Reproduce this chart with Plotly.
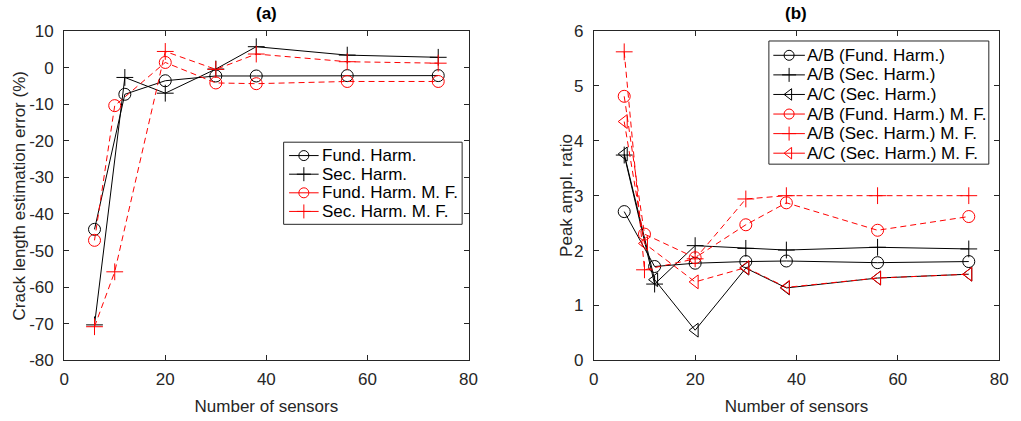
import plotly.graph_objects as go

# ---- data: (a) crack length estimation error (%) ----
sensors_a = [6, 12, 20, 30, 38, 56, 74]
sensors_a_mf = [6, 10, 20, 30, 38, 56, 74]
fund_harm = [-44.2, -7.3, -3.6, -2.3, -2.3, -2.2, -2.2]
sec_harm = [-70.3, -2.7, -7.0, -0.4, 5.7, 3.4, 2.8]
fund_harm_mf = [-47.2, -10.4, 1.4, -4.2, -4.4, -3.8, -3.8]
sec_harm_mf = [-70.8, -55.8, 4.4, -0.5, 3.7, 1.6, 1.2]

# ---- data: (b) peak amplitude ratio ----
sensors_b = [6, 12, 20, 30, 38, 56, 74]
sensors_b_mf = [6, 10, 20, 30, 38, 56, 74]
ab_fund = [2.71, 1.71, 1.77, 1.80, 1.81, 1.78, 1.80]
ab_sec = [3.74, 1.39, 2.09, 2.04, 2.01, 2.06, 2.03]
ac_sec = [3.76, 1.47, 0.55, 1.68, 1.32, 1.50, 1.57]
ab_fund_mf = [4.81, 2.30, 1.87, 2.47, 2.87, 2.37, 2.62]
ab_sec_mf = [5.62, 1.65, 1.85, 2.94, 3.00, 3.00, 3.00]
ac_sec_mf = [4.35, 2.13, 1.43, 1.69, 1.33, 1.50, 1.57]

# ---- tick labels ----
x_ticks = [0, 20, 40, 60, 80]
x_ticktext = ["0", "20", "40", "60", "80"]
ya_ticks = [10, 0, -10, -20, -30, -40, -50, -60, -70, -80]
ya_ticktext = ["10", "0", "-10", "-20", "-30", "-40", "-50", "-60", "-70", "-80"]
yb_ticks = [0, 1, 2, 3, 4, 5, 6]
yb_ticktext = ["0", "1", "2", "3", "4", "5", "6"]

W, H = 1021, 421
FONT = "Liberation Sans, Arial, Helvetica, sans-serif"
FS = 17
AX = "#262626"
RED = "#ff0000"
BLK = "#000000"
DASH = "6px,4px"

# series: (x, y, label, colour, marker, dashed)
series_a = [
    (sensors_a, fund_harm, "Fund. Harm.", BLK, "circle-open", False),
    (sensors_a, sec_harm, "Sec. Harm.", BLK, "cross-thin-open", False),
    (sensors_a_mf, fund_harm_mf, "Fund. Harm. M. F.", RED, "circle-open", True),
    (sensors_a_mf, sec_harm_mf, "Sec. Harm. M. F.", RED, "cross-thin-open", True),
]
series_b = [
    (sensors_b, ab_fund, "A/B (Fund. Harm.)", BLK, "circle-open", False),
    (sensors_b, ab_sec, "A/B (Sec. Harm.)", BLK, "cross-thin-open", False),
    (sensors_b, ac_sec, "A/C (Sec. Harm.)", BLK, "triangle-left-open", False),
    (sensors_b_mf, ab_fund_mf, "A/B (Fund. Harm.) M. F.", RED, "circle-open", True),
    (sensors_b_mf, ab_sec_mf, "A/B (Sec. Harm.) M. F.", RED, "cross-thin-open", True),
    (sensors_b_mf, ac_sec_mf, "A/C (Sec. Harm.) M. F.", RED, "triangle-left-open", True),
]


def px_x(v):
    return v / W


def px_y(v):
    return (H - v) / H


fig = go.Figure()

for xa, ya, group in (("x", "y", series_a), ("x2", "y2", series_b)):
    for x, y, name, color, symbol, dashed in group:
        fig.add_trace(go.Scatter(
            x=x, y=y, name=name, mode="lines+markers", showlegend=False,
            line=dict(color=color, width=1, dash=DASH if dashed else "solid"),
            marker=dict(symbol=symbol, size=12, color=color,
                        line=dict(color=color, width=1)),
            xaxis=xa, yaxis=ya,
        ))

# ---- legend boxes, drawn on a pixel-unit overlay axis (x3/y3) ----
annotations = []


def legend_box(group, box, row0, step, line_x, text_x):
    x0, y0, x1, y1 = box
    fig.add_trace(go.Scatter(
        x=[x0, x1, x1, x0, x0], y=[y0, y0, y1, y1, y0], mode="lines",
        fill="toself", fillcolor="white", line=dict(color=AX, width=1),
        showlegend=False, hoverinfo="skip", xaxis="x3", yaxis="y3",
    ))
    for i, (_, _, name, color, symbol, dashed) in enumerate(group):
        yc = row0 + i * step
        xm = (line_x[0] + line_x[1]) / 2
        fig.add_trace(go.Scatter(
            x=[line_x[0], line_x[1]], y=[yc, yc], mode="lines",
            line=dict(color=color, width=1), showlegend=False,
            hoverinfo="skip", xaxis="x3", yaxis="y3",
        ))
        fig.add_trace(go.Scatter(
            x=[xm], y=[yc], mode="markers", showlegend=False, hoverinfo="skip",
            marker=dict(symbol=symbol, size=10, color=color,
                        line=dict(color=color, width=1)),
            xaxis="x3", yaxis="y3",
        ))
        annotations.append(dict(
            text=name, x=text_x, y=yc, xref="x3", yref="y3",
            xanchor="left", yanchor="middle", showarrow=False,
            font=dict(family=FONT, size=FS, color=BLK),
        ))


legend_box(series_a, (282.5, 139.5, 463.5, 225.5), 153.5, 19.5, (288, 318), 319)
legend_box(series_b, (774.5, 33.5, 997.5, 162.5), 48.5, 20.5, (779, 811), 811)

axis_common = dict(
    showline=True, linecolor=AX, linewidth=1, mirror="ticks",
    ticks="inside", ticklen=5, tickcolor=AX, showgrid=False, zeroline=False,
    tickfont=dict(family=FONT, size=FS, color=AX),
)
title_font = dict(family=FONT, size=FS, color=AX)

top, bottom = px_y(23), px_y(368)

annotations += [
    dict(text="<b>(a)</b>", x=265, y=5, xref="x3", yref="y3",
         xanchor="center", yanchor="middle", showarrow=False,
         font=dict(family=FONT, size=FS, color=BLK)),
    dict(text="<b>(b)</b>", x=802, y=5, xref="x3", yref="y3",
         xanchor="center", yanchor="middle", showarrow=False,
         font=dict(family=FONT, size=FS, color=BLK)),
    dict(text="Crack length estimation error (%)", x=15, y=195.5,
         xref="x3", yref="y3", textangle=-90, xanchor="center", yanchor="middle",
         showarrow=False, font=title_font),
    dict(text="Peak ampl. ratio", x=569, y=195.5, xref="x3", yref="y3",
         textangle=-90, xanchor="center", yanchor="middle",
         showarrow=False, font=title_font),
]

fig.update_layout(
    width=W, height=H,
    margin=dict(l=0, r=0, t=0, b=0),
    paper_bgcolor="white", plot_bgcolor="rgba(0,0,0,0)",
    font=dict(family=FONT, color=AX),
    showlegend=False,
    xaxis=dict(domain=[px_x(60), px_x(470)], range=[0, 80],
               tickmode="array", tickvals=x_ticks, ticktext=x_ticktext,
               ticklabelstandoff=3, anchor="y", **axis_common,
               title=dict(text="Number of sensors", font=title_font, standoff=12)),
    yaxis=dict(domain=[bottom, top], range=[-80, 10],
               tickmode="array", tickvals=ya_ticks, ticktext=ya_ticktext,
               ticklabelstandoff=6, anchor="x", **axis_common),
    xaxis2=dict(domain=[px_x(597), px_x(1008)], range=[0, 80],
                tickmode="array", tickvals=x_ticks, ticktext=x_ticktext,
                ticklabelstandoff=3, anchor="y2", **axis_common,
                title=dict(text="Number of sensors", font=title_font, standoff=12)),
    yaxis2=dict(domain=[bottom, top], range=[0, 6],
                tickmode="array", tickvals=yb_ticks, ticktext=yb_ticktext,
                ticklabelstandoff=6, anchor="x2", **axis_common),
    xaxis3=dict(domain=[0, 1], range=[0, W], visible=False, fixedrange=True),
    yaxis3=dict(domain=[0, 1], range=[H, 0], visible=False, fixedrange=True,
                anchor="x3"),
    annotations=annotations,
)

fig.write_html("out.html")
